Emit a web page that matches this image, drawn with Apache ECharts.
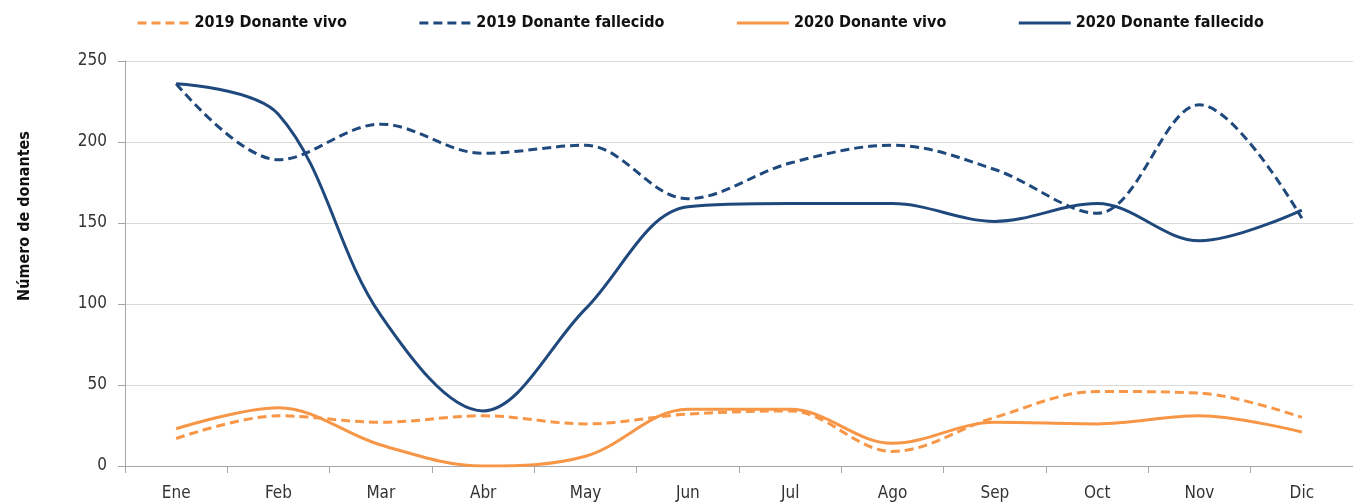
<!DOCTYPE html>
<html>
<head>
<meta charset="utf-8">
<script src="https://cdn.jsdelivr.net/npm/echarts@6/dist/echarts.min.js"></script>
<style>
  html, body { margin: 0; padding: 0; background: #fff; }
  #chart { width: 1353px; height: 504px; }
</style>
</head>
<body>
<div id="chart"></div>
<script>
const categories = ['Ene','Feb','Mar','Abr','May','Jun','Jul','Ago','Sep','Oct','Nov','Dic'];
const vivo2019 = [17, 31, 27, 31, 26, 32, 34, 9, 30, 46, 45, 30];
const fallecido2019 = [236, 189, 211, 193, 198, 165, 187, 198, 183, 156, 223, 153];
const vivo2020 = [23, 36, 13, 0, 6, 35, 35, 14, 27, 26, 31, 21];
const fallecido2020 = [236, 217, 93, 34, 97, 160, 162, 162, 151, 162, 139, 158];
const yTicks = { min: 0, max: 250, interval: 50 };
const seriesNames = ['2019 Donante vivo', '2019 Donante fallecido', '2020 Donante vivo', '2020 Donante fallecido'];
const yAxisTitle = 'Número de donantes';

const FONT = "'DejaVu Sans Condensed', Roboto, sans-serif";
const ORANGE = '#F79646';
const NAVY = '#1F497D';

const chart = echarts.init(document.getElementById('chart'));
function mk(name, data, color, dashed) {
  return {
    name: name, type: 'line', data: data, smooth: 0.35,
    symbol: 'none', showSymbol: false,
    lineStyle: { color: color, width: 3, type: dashed ? [9, 5] : 'solid', cap: 'butt' },
    itemStyle: { color: color },
    z: dashed ? 2 : 3
  };
}
chart.setOption({
  animation: false,
  textStyle: { fontFamily: FONT },
  legend: {
    left: 131, top: 10,
    itemWidth: 52, itemHeight: 14, itemGap: 71,
    itemStyle: { opacity: 0 },
    lineStyle: { width: 3 },
    textStyle: { fontFamily: FONT, fontWeight: 'bold', fontSize: 16, color: '#111' },
    data: seriesNames
  },
  grid: { left: 125, right: 0, top: 61, bottom: 38, containLabel: false },
  xAxis: {
    type: 'category', data: categories, boundaryGap: true,
    axisLine: { lineStyle: { color: '#a6a6a6', width: 1 } },
    axisTick: { show: true, length: 7, lineStyle: { color: '#a6a6a6' } },
    axisLabel: { color: '#333', fontSize: 17, fontFamily: FONT, margin: 19 }
  },
  yAxis: {
    type: 'value', min: yTicks.min, max: yTicks.max, interval: yTicks.interval,
    axisLine: { show: true, lineStyle: { color: '#a6a6a6', width: 1 } },
    axisTick: { show: true, length: 7, lineStyle: { color: '#a6a6a6' } },
    axisLabel: { color: '#333', fontSize: 17, fontFamily: FONT, margin: 18 },
    splitLine: { show: true, lineStyle: { color: '#d9d9d9', width: 1 } }
  },
  graphic: [{
    type: 'text', x: 25, y: 216, rotation: Math.PI / 2,
    style: {
      text: yAxisTitle, fill: '#111',
      font: "bold 16px " + FONT,
      align: 'center', verticalAlign: 'middle',
      textAlign: 'center', textVerticalAlign: 'middle'
    }
  }],
  series: [
    mk(seriesNames[0], vivo2019, ORANGE, true),
    mk(seriesNames[1], fallecido2019, NAVY, true),
    mk(seriesNames[2], vivo2020, ORANGE, false),
    mk(seriesNames[3], fallecido2020, NAVY, false)
  ]
});
</script>
</body>
</html>
